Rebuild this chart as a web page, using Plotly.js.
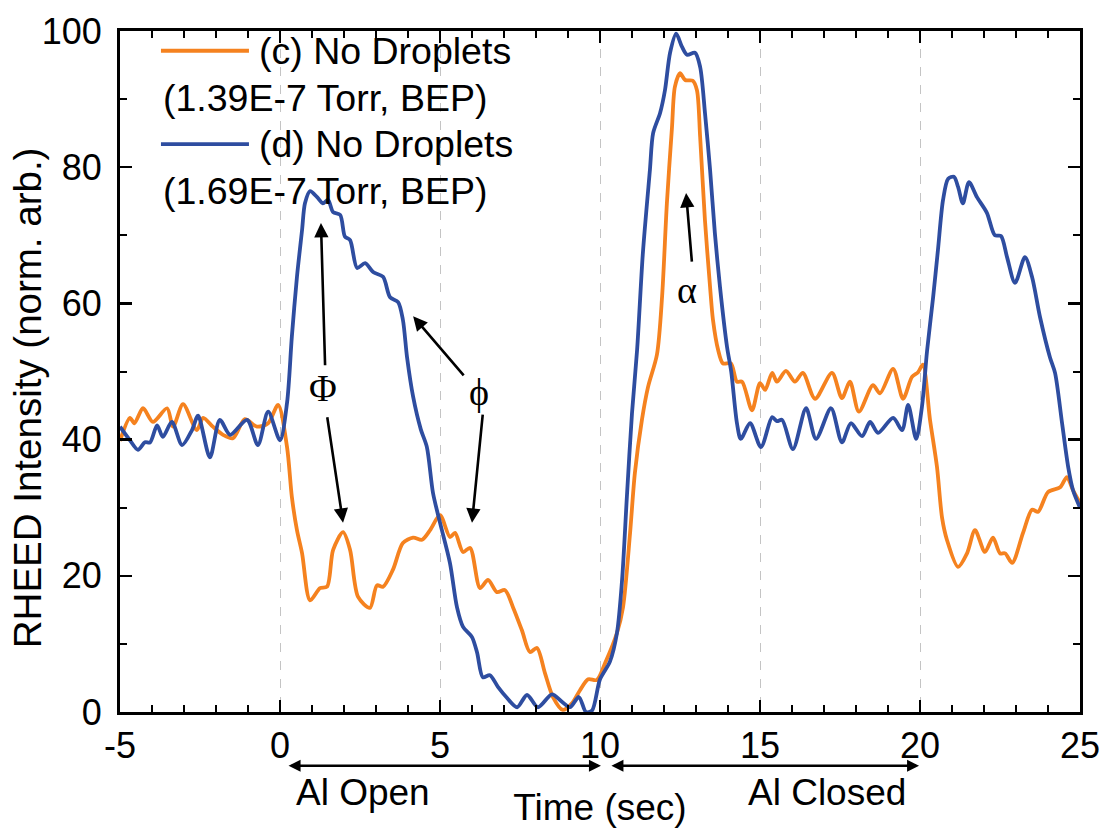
<!DOCTYPE html>
<html>
<head>
<meta charset="utf-8">
<script src="https://cdn.plot.ly/plotly-3.0.1.min.js"></script>
<style>
  html, body { margin: 0; padding: 0; background: #fff; }
  #chart { width: 1104px; height: 828px; }
</style>
</head>
<body>
<div id="chart"></div>
<script>
// RHEED intensity transients during an Al shutter cycle
// (c) 1.39E-7 Torr BEP, no droplets
const timeC = [-5, -4.69, -4.55, -4.28, -3.97, -3.53, -3.34, -3.03, -2.6, -2.4, -2.1, -1.78, -1.47, -1.1, -0.72, -0.37, -0.06,
  0.22, 0.37, 0.53, 0.69, 0.94, 1.25, 1.47, 1.66, 1.97, 2.19, 2.44, 2.81, 3.03, 3.22, 3.53, 3.84, 4.16, 4.44, 4.69,
  5.0, 5.31, 5.47, 5.72, 5.94, 6.25, 6.5, 6.78, 7.03, 7.28, 7.56, 7.81, 8.03, 8.28, 8.53, 8.84, 9.13, 9.375, 9.63, 9.9,
  10.16, 10.53, 10.72, 10.94, 11.09, 11.31, 11.5, 11.78, 11.94, 12.09, 12.25, 12.34, 12.5, 12.66, 12.9, 13.03, 13.13,
  13.28, 13.44, 13.53, 13.69, 13.84, 14.09, 14.28, 14.44, 14.75, 15.0, 15.16, 15.38, 15.53, 15.81, 16.09, 16.34, 16.72,
  17.25, 17.56, 17.81, 18.09, 18.53, 18.75, 19.16, 19.47, 19.75, 19.94, 20.09, 20.31, 20.53, 20.69, 20.84, 21.19, 21.47,
  21.72, 22.03, 22.28, 22.5, 22.66, 22.88, 23.22, 23.5, 23.69, 24.0, 24.38, 24.59, 24.78, 25.0];
const rheedC = [39.8, 43.2, 42.4, 44.6, 42.6, 44.6, 41.9, 45.2, 41.4, 43.2, 41.9, 40.7, 40.2, 43.0, 41.9, 42.4, 45.1,
  38.9, 31.6, 26.7, 23.3, 16.4, 18.2, 18.4, 23.8, 26.4, 23.8, 16.9, 15.3, 18.6, 18.4, 20.9, 24.8, 25.6, 25.3, 26.7,
  28.9, 25.7, 26.3, 23.5, 24.1, 18.2, 19.4, 17.6, 17.9, 15.4, 12.0, 8.8, 9.4, 5.7, 2.2, 0.3, 1.3, 3.2, 4.8, 4.7,
  7.2, 11.6, 15.4, 26.3, 35.1, 42.9, 47.7, 52.5, 61.0, 74.7, 85.9, 91.8, 93.8, 92.8, 92.7, 91.3, 84.4,
  72.2, 62.4, 57.6, 53.2, 51.2, 51.2, 48.5, 48.5, 44.3, 48.3, 47.3, 49.8, 48.5, 50.1, 48.5, 49.8, 46.0,
  49.8, 46.1, 48.5, 44.1, 48.0, 46.8, 50.4, 46.0, 49.2, 49.9, 51.0, 43.0, 36.0, 28.5, 25.3, 21.3, 23.3,
  26.7, 23.5, 25.6, 23.3, 23.3, 21.9, 26.3, 29.7, 29.4, 32.3, 33.0, 34.5, 32.6, 30.7];

// (d) 1.69E-7 Torr BEP, no droplets
const timeD = [-5, -4.69, -4.44, -4.22, -4.06, -3.84, -3.66, -3.38, -3.06, -2.75, -2.56, -2.19, -1.88, -1.56, -1.03, -0.69,
  -0.37, 0.0, 0.22, 0.37, 0.53, 0.69, 0.78, 0.94, 1.16, 1.34, 1.5, 1.66, 1.88, 2.03, 2.19, 2.41, 2.66, 2.91, 3.22, 3.44,
  3.69, 3.84, 3.97, 4.16, 4.4, 4.59, 4.78, 5.0, 5.31, 5.53, 5.72, 6.0, 6.16, 6.34, 6.56, 6.81, 7.09, 7.41, 7.72, 8.06,
  8.5, 8.81, 9.06, 9.34, 9.56, 9.75, 10.0, 10.31, 10.53, 10.69, 10.84, 11.0, 11.16, 11.34, 11.56, 11.66, 11.88, 12.03,
  12.19, 12.38, 12.56, 12.72, 12.97, 13.13, 13.28, 13.44, 13.59, 13.75, 13.97, 14.1, 14.28, 14.4, 14.69, 15.03, 15.38,
  15.53, 15.69, 16.03, 16.44, 16.75, 17.22, 17.56, 17.84, 18.19, 18.44, 18.69, 19.16, 19.44, 19.63, 19.88, 20.06, 20.22,
  20.41, 20.56, 20.72, 20.88, 21.06, 21.19, 21.34, 21.53, 21.78, 22.09, 22.34, 22.53, 22.72, 22.97, 23.28, 23.5, 23.75,
  24.06, 24.22, 24.44, 24.63, 24.78, 25.0];
const rheedD = [41.9, 39.9, 38.5, 39.6, 39.6, 42.1, 40.4, 42.6, 39.2, 41.4, 43.5, 37.4, 42.9, 40.7, 42.9, 39.2,
  44.1, 39.9, 45.4, 55.1, 63.9, 70.8, 74.7, 76.5, 75.6, 74.7, 75.2, 73.4, 73.0, 69.8, 69.3, 65.2, 65.9, 64.6, 63.9, 60.9,
  60.2, 57.6, 52.1, 46.3, 41.5, 38.9, 32.2, 27.8, 21.9, 15.4, 12.5, 11.0, 8.7, 5.1, 5.4, 3.7, 2.1, 0.7, 2.5, 0.7,
  2.6, 1.5, 0.7, 2.2, 0.0, 0.2, 4.8, 7.4, 11.6, 19.4, 31.6, 43.9, 53.2, 67.4, 79.6, 85.0, 88.0, 91.3,
  96.8, 99.6, 97.7, 96.5, 96.8, 94.7, 88.0, 79.6, 70.3, 62.4, 53.6, 50.0, 42.4, 40.1, 42.4, 38.9, 43.3,
  42.7, 42.9, 38.6, 44.6, 40.1, 44.6, 39.6, 42.4, 40.5, 42.6, 41.0, 43.2, 41.4, 45.1, 40.1, 44.8, 53.0,
  60.9, 67.8, 75.2, 78.3, 78.6, 77.1, 74.7, 77.8, 75.6, 73.3, 70.0, 69.9, 66.8, 63.0, 66.8, 63.9, 58.0,
  52.1, 49.8, 42.4, 36.0, 32.6, 30.0];

const seriesNames = ['(c) No Droplets', '(d) No Droplets'];
const pressureNotes = ['(1.39E-7 Torr, BEP)', '(1.69E-7 Torr, BEP)'];
const seriesColors = ['#F5821F', '#2E4DA0'];

const xTicks = [-5, 0, 5, 10, 15, 20, 25];
const xTickText = ['-5', '0', '5', '10', '15', '20', '25'];
const yTicks = [0, 20, 40, 60, 80, 100];
const yTickText = ['0', '20', '40', '60', '80', '100'];

const sans = 'Arial, "Liberation Sans", sans-serif';
const serif = '"Times New Roman", "Liberation Serif", serif';

const traces = [
  { x: timeC, y: rheedC, name: seriesNames[0] },
  { x: timeD, y: rheedD, name: seriesNames[1] }
].map((t, i) => Object.assign(t, {
  type: 'scatter', mode: 'lines',
  line: { color: seriesColors[i], width: 3.8, shape: 'spline', smoothing: 0.8 },
  showlegend: false
}));

// hand-made legend: line sample + name, then the pressure note on the next line
const legendRows = [97.1, 83.4];
const legendShapes = legendRows.map((yv, i) => ({
  type: 'line', xref: 'x', yref: 'y', x0: -3.72, x1: -0.97, y0: yv, y1: yv,
  line: { color: seriesColors[i], width: 3.8 }
}));
const legendText = [];
legendRows.forEach((yv, i) => {
  legendText.push({ xref: 'x', yref: 'y', x: -0.72, y: yv, text: seriesNames[i], showarrow: false,
    xanchor: 'left', yanchor: 'middle', font: { family: sans, size: 37.5, color: '#000' } });
  legendText.push({ xref: 'x', yref: 'y', x: -3.72, y: yv - 6.9, text: pressureNotes[i], showarrow: false,
    xanchor: 'left', yanchor: 'middle', font: { family: sans, size: 37.5, color: '#000' } });
});

// feature markers and pointers
const arrowStyle = { showarrow: true, arrowhead: 2, arrowsize: 1.1, arrowwidth: 2.6, arrowcolor: '#000',
  axref: 'x', ayref: 'y', xref: 'x', yref: 'y', text: '', standoff: 0, startstandoff: 0 };
const pointers = [
  { x: 1.28, y: 71.8, ax: 1.41, ay: 50.7 },
  { x: 1.97, y: 27.8, ax: 1.47, ay: 43.5 },
  { x: 4.16, y: 58.1, ax: 5.78, ay: 49.2 },
  { x: 6.0, y: 27.8, ax: 6.34, ay: 43.9 },
  { x: 12.69, y: 76.2, ax: 12.875, ay: 65.9 }
].map(p => Object.assign({}, arrowStyle, p));

const symbols = [
  { x: 1.34, y: 47.6, text: '\u03A6' },
  { x: 6.22, y: 47.0, text: '\u03D5' },
  { x: 12.72, y: 62.0, text: '\u03B1' }
].map(s => Object.assign({ xref: 'x', yref: 'y', showarrow: false, xanchor: 'center', yanchor: 'middle',
  font: { family: serif, size: 38, color: '#000' } }, s));

// shutter period markers under the time axis
const periodY = -0.079;
const periods = [
  { x: 10.03, ax: 0.22, label: 'Al Open', lx: 2.6 },
  { x: 19.97, ax: 10.31, label: 'Al Closed', lx: 17.1 }
];
const periodMarks = [];
periods.forEach(p => {
  periodMarks.push({ xref: 'x', yref: 'paper', x: p.x, y: periodY, axref: 'x', ayref: 'pixel', ax: p.ax, ay: 0,
    text: '', showarrow: true, arrowhead: 2, arrowside: 'end+start', arrowsize: 1, arrowwidth: 2.4,
    arrowcolor: '#000', standoff: 0, startstandoff: 0 });
  periodMarks.push({ xref: 'x', yref: 'paper', x: p.lx, y: -0.1175, text: p.label, showarrow: false,
    xanchor: 'center', yanchor: 'middle', font: { family: sans, size: 37, color: '#000' } });
});

// y-axis title placed as rotated text so it can sit slightly below the plot centre
const yTitle = { xref: 'paper', yref: 'paper', x: -0.096, y: 0.462, text: 'RHEED Intensity (norm. arb.)',
  textangle: -90, showarrow: false, xanchor: 'center', yanchor: 'middle',
  font: { family: sans, size: 38.5, color: '#000' } };

const axisCommon = {
  showline: true, linecolor: '#000', linewidth: 3, mirror: 'allticks',
  ticks: 'inside', ticklen: 12, tickwidth: 2.5, tickcolor: '#000',
  tickfont: { family: sans, size: 36, color: '#000' },
  zeroline: false, automargin: false
};

const layout = {
  width: 1104, height: 828,
  paper_bgcolor: '#fff', plot_bgcolor: '#fff',
  margin: { l: 120, r: 24, t: 31, b: 116 },
  xaxis: Object.assign({}, axisCommon, {
    range: [-5, 25], tickmode: 'array', tickvals: xTicks, ticktext: xTickText, ticklabelstandoff: 0,
    showgrid: true, gridcolor: '#c4c4c4', gridwidth: 1, griddash: 'dash',
    minor: { dtick: 1, tick0: 0, ticks: 'inside', ticklen: 7, tickwidth: 2, tickcolor: '#000', showgrid: false },
    title: { text: 'Time (sec)', standoff: 44, font: { family: sans, size: 37, color: '#000' } }
  }),
  yaxis: Object.assign({}, axisCommon, {
    range: [0, 100], tickmode: 'array', tickvals: yTicks, ticktext: yTickText, ticklabelstandoff: 8, showgrid: false,
    minor: { dtick: 10, tick0: 0, ticks: 'inside', ticklen: 7, tickwidth: 2, tickcolor: '#000', showgrid: false }
  }),
  shapes: legendShapes,
  annotations: legendText.concat(pointers, symbols, periodMarks, [yTitle]),
  showlegend: false
};

Plotly.newPlot('chart', traces, layout, { displayModeBar: false, staticPlot: true });
</script>
</body>
</html>
